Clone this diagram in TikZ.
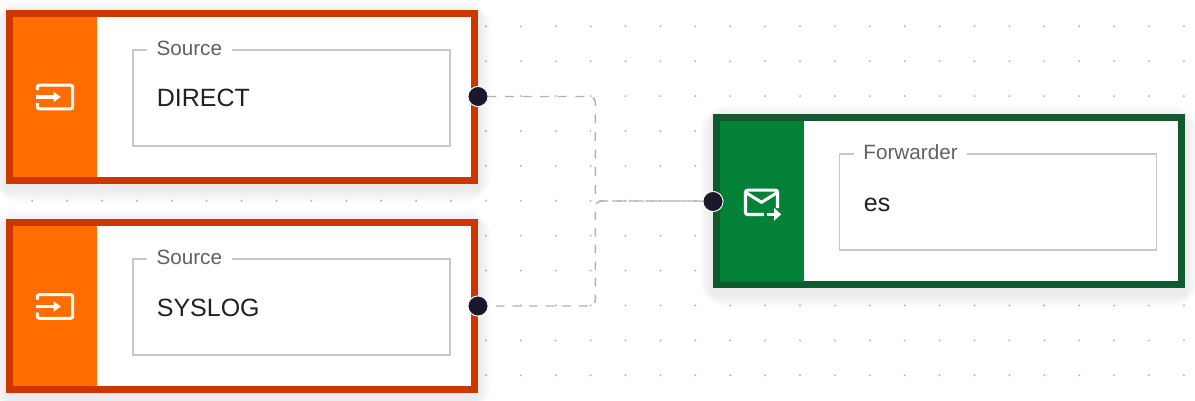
\documentclass[tikz,border=0pt]{standalone}
\usepackage{fontspec}
\setmainfont{Liberation Sans}
\definecolor{srcborder}{HTML}{CC3700}
\definecolor{srcfill}{HTML}{FF6D00}
\definecolor{fwdborder}{HTML}{0F5A2E}
\definecolor{fwdfill}{HTML}{038137}
\definecolor{handlecol}{HTML}{1A192B}
\definecolor{edgecol}{HTML}{B1B1B7}
\definecolor{fieldcol}{HTML}{C8C8C8}
\definecolor{labelcol}{HTML}{616161}
\definecolor{valuecol}{HTML}{212121}
\definecolor{dotcol}{HTML}{B8B8B8}
\newcommand{\softshadow}[4]{%
  \foreach \k in {1,...,10}{
    \fill[black,opacity=0.008,rounded corners=3*\k*0.75pt]
      (#1-1.4*\k,#2-1.4*\k+5) rectangle (#3+1.4*\k,#4+1.4*\k+5);
  }}
\newcommand{\inputicon}[2]{%
  \begin{scope}[shift={(#1,#2)}]
    \draw[iconline] (-17.6,-7) -- (-17.6,-9.5) [rounded corners=1.5pt] -- (-17.6,-11.8) -- (17.6,-11.8) -- (17.6,11.8) -- (-17.6,11.8) -- (-17.6,6);
    \draw[iconline,rounded corners=0pt] (-19,0) -- (0,0);
    \fill[white] (-1.5,-5.2) -- (5.8,0) -- (-1.5,5.2) -- cycle;
  \end{scope}}
\newcommand{\mailicon}[2]{%
  \begin{scope}[shift={(#1,#2)}]
    \draw[iconline] (2.5,13) [rounded corners=1.5pt] -- (-16,13) -- (-16,-11.3) -- (16,-11.3) -- (16,6.5);
    \draw[iconline,line join=miter] (-15,-8.5) -- (0,0.8) -- (15,-8.5);
    \draw[iconline] (5.5,12.8) -- (14,12.8);
    \fill[white] (12.5,6.3) -- (19.6,12.8) -- (12.5,19.3) -- cycle;
  \end{scope}}
\tikzset{
  x=0.75pt,y=-0.75pt,
  griddot/.style={fill=dotcol,draw=none},
  boxnode/.style={draw=#1,line width=5.25pt,fill=white,inner sep=0pt,anchor=center},
  colorpanel/.style={fill=#1,draw=none,inner sep=0pt,anchor=north west},
  fieldbox/.style={draw=fieldcol,line width=1.15pt,fill=white,inner sep=0pt,anchor=north west,minimum width=237.75pt,minimum height=72pt},
  fieldlabel/.style={fill=white,text=labelcol,font=\fontsize{15.5}{18}\selectfont,anchor=base west,inner xsep=7.2pt,inner ysep=1pt},
  fieldvalue/.style={text=valuecol,font=\fontsize{18.75}{22}\selectfont,anchor=base west,inner sep=0pt},
  handle/.style={circle,fill=handlecol,draw=white,line width=0.6pt,minimum size=15pt,inner sep=0pt},
  edgeup/.style={draw=edgecol,line width=1.1pt,dash pattern=on 6.7pt off 6.5pt,dash phase=6.15pt,rounded corners=4.5pt},
  edgelow/.style={draw=edgecol,line width=1.1pt,dash pattern=on 6.4pt off 6.05pt,dash phase=11.4pt,rounded corners=4.5pt},
  iconline/.style={draw=white,line width=2.3pt}
}
\begin{document}
\begin{tikzpicture}
\useasboundingbox (0,0) rectangle (1195,400);
\fill[white] (0,0) rectangle (1195,400);
% dotted background
\foreach \i in {0,...,33}{
  \foreach \j in {0,...,10}{
    \fill[griddot] ({32.2+34.9*\i},{26.3+34.9*\j}) circle (0.75pt*1.1);
  }
}
% shadows
\softshadow{6}{9.5}{478}{184}
\softshadow{6}{218.5}{478}{393}
\softshadow{713}{114}{1184.5}{288.5}
% source 1
\node[boxnode=srcborder,minimum width=348.75pt,minimum height=125.5pt] (s1) at (242.3,96.8) {};
\node[colorpanel=srcfill,minimum width=63pt,minimum height=120.25pt] (p1) at (13,16.6) {};
\inputicon{55}{97}
\node[fieldbox] (f1) at (132.2,49.1) {};
\node[fieldlabel] (l1) at (146.7,55) {Source};
\node[fieldvalue] (v1) at (156.6,106.7) {DIRECT};
% source 2
\node[boxnode=srcborder,minimum width=348.75pt,minimum height=125.5pt] (s2) at (242.3,306) {};
\node[colorpanel=srcfill,minimum width=63pt,minimum height=120.25pt] (p2) at (13,225.8) {};
\inputicon{55}{306.5}
\node[fieldbox] (f2) at (132.2,258.3) {};
\node[fieldlabel] (l2) at (146.7,264.2) {Source};
\node[fieldvalue] (v2) at (156.6,316) {SYSLOG};
% forwarder
\node[boxnode=fwdborder,minimum width=348.75pt,minimum height=125.5pt] (t1) at (948.7,201.2) {};
\node[colorpanel=fwdfill,minimum width=63pt,minimum height=120.25pt] (p3) at (719.4,121) {};
\mailicon{761.5}{201.5}
\node[fieldbox] (f3) at (838.6,153.4) {};
\node[fieldlabel] (l3) at (853.6,159.8) {Forwarder};
\node[fieldvalue] (v3) at (863.6,211.5) {es};
% connectors
\coordinate (j) at (595.3,201);
\node[handle] (h1) at (478,96.5) {};
\node[handle] (h2) at (478,306) {};
\node[handle] (h3) at (713,201.5) {};
\draw[edgeup] (h1.center) -| (j) -- (h3.center |- j);
\draw[edgelow] (h2.center) -| (j) -- (h3.center |- j);
\node[handle] at (h1.center) {};
\node[handle] at (h2.center) {};
\node[handle] at (h3.center) {};
\end{tikzpicture}
\end{document}
